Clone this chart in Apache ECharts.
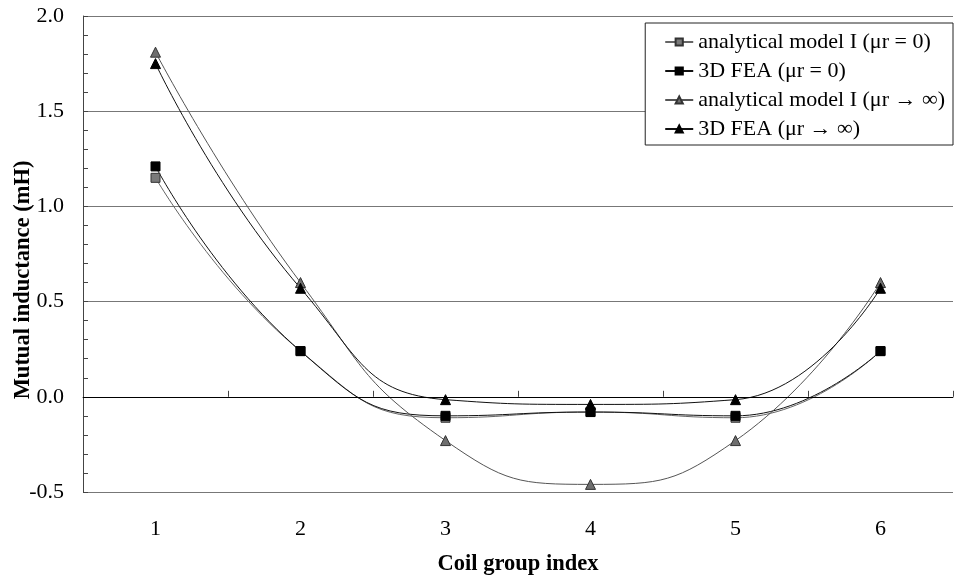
<!DOCTYPE html>
<html><head><meta charset="utf-8">
<script src="https://cdn.jsdelivr.net/npm/echarts@6/dist/echarts.min.js"></script>
<style>html,body{margin:0;padding:0;background:#fff}#c{width:954px;height:578px}</style>
</head><body><div id="c"></div>
<script>
const categories = ['1','2','3','4','5','6'];
const analyticalMu0 = [1.15, 0.24, -0.11, -0.08, -0.11, 0.24];
const feaMu0 = [1.21, 0.24, -0.10, -0.08, -0.10, 0.24];
const analyticalMuInf = [1.81, 0.60, -0.23, -0.46, -0.23, 0.60];
const feaMuInf = [1.75, 0.57, -0.015, -0.04, -0.015, 0.57];
const names = ['analytical model I (\u03bcr = 0)','3D FEA (\u03bcr = 0)','analytical model I (\u03bcr \u2192 \u221e)','3D FEA (\u03bcr \u2192 \u221e)'];
const font = 'Liberation Serif';
function mk(name, data, symbol, fill, border, lineColor, size){
  return {name, type:'line', data, symbol, symbolSize:size, smooth:0.5,
    lineStyle:{color:lineColor, width:1},
    itemStyle:{color:fill, borderColor:border, borderWidth:1},
    z: 3};
}
const series = [
  mk(names[0], analyticalMu0, 'rect', '#7a7a7a', '#333', '#666', 9),
  mk(names[1], feaMu0, 'rect', '#000', '#000', '#111', 9),
  mk(names[2], analyticalMuInf, 'triangle', '#6e6e6e', '#333', '#555', 10),
  mk(names[3], feaMuInf, 'triangle', '#000', '#000', '#111', 10)
];
series[0].markLine = {silent:true, symbol:'none', label:{show:false}, lineStyle:{color:'#000', width:1, type:'solid'}, data:[{yAxis:0}], animation:false};
const chart = echarts.init(document.getElementById('c'));
chart.setOption({
  animation:false,
  backgroundColor:'#fff',
  grid:{left:83, right:1, top:16, bottom:86, containLabel:false, outerBoundsMode:'none'},
  legend:{orient:'vertical', right:1, top:23, data:names,
    backgroundColor:'#fff', borderColor:'#222', borderWidth:1,
    padding:[8,8,5,19], itemWidth:28, itemHeight:9, itemGap:7,
    textStyle:{fontFamily:font, fontSize:22, color:'#000'}},
  xAxis:{type:'category', data:categories, boundaryGap:true,
    axisLine:{lineStyle:{color:'#444', width:1}},
    axisTick:{show:true, inside:true, length:6, alignWithLabel:false, lineStyle:{color:'#444'}},
    axisLabel:{fontFamily:font, fontSize:22, color:'#000', margin:26},
    name:'Coil group index', nameLocation:'middle', nameGap:61, nameMoveOverlap:false,
    nameTextStyle:{fontFamily:font, fontSize:22.5, fontWeight:'bold', color:'#000'}},
  yAxis:{type:'value', min:-0.5, max:2.0, interval:0.5,
    axisLine:{show:true, lineStyle:{color:'#444', width:1}},
    axisTick:{show:true, inside:true, length:5, lineStyle:{color:'#444'}},
    minorTick:{show:true, splitNumber:5, length:5, lineStyle:{color:'#444'}},
    splitLine:{show:true, lineStyle:{color:'#777', width:1}},
    axisLabel:{fontFamily:font, fontSize:22, color:'#000', margin:19, formatter:v=>v.toFixed(1)},
    name:'Mutual inductance (mH)', nameLocation:'middle', nameGap:48, nameRotate:90, nameMoveOverlap:false,
    nameTextStyle:{fontFamily:font, fontSize:22.5, fontWeight:'bold', color:'#000', padding:[0,52,0,0]}},
  series
});
</script></body></html>
